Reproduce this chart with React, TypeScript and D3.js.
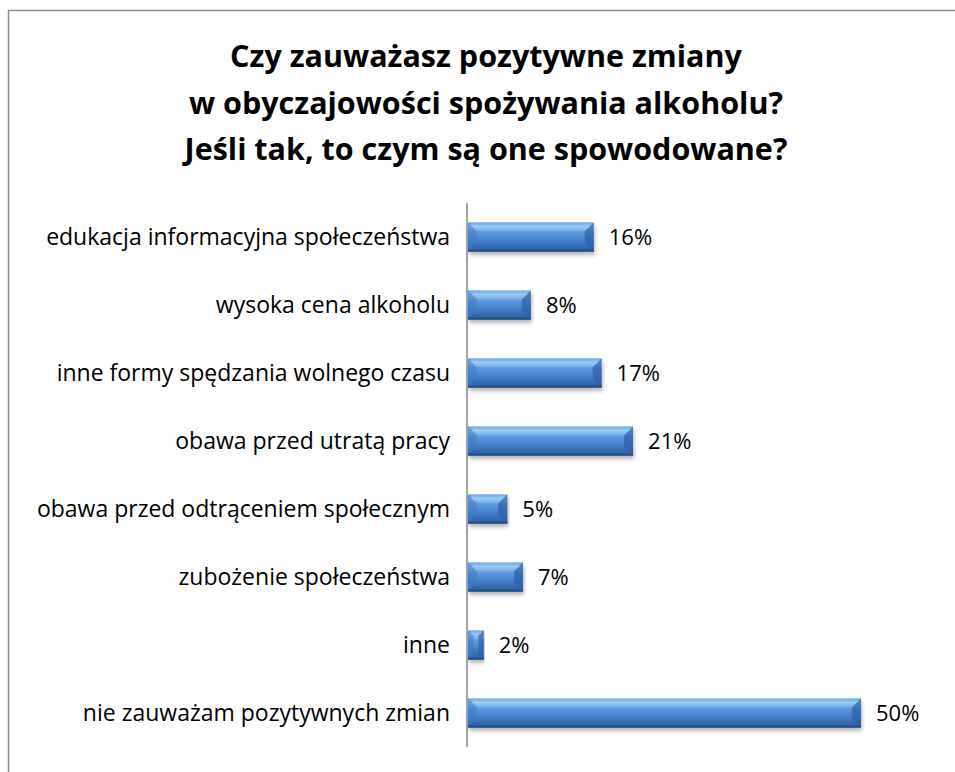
import * as React from "react";
import * as d3 from "d3";

const categories: string[] = [
  "edukacja informacyjna społeczeństwa",
  "wysoka cena alkoholu",
  "inne formy spędzania wolnego czasu",
  "obawa przed utratą pracy",
  "obawa przed odtrąceniem społecznym",
  "zubożenie społeczeństwa",
  "inne",
  "nie zauważam pozytywnych zmian",
];
const values: number[] = [16, 8, 17, 21, 5, 7, 2, 50];
const titleLines: string[] = [
  "Czy zauważasz pozytywne zmiany",
  "w obyczajowości spożywania alkoholu?",
  "Jeśli tak, to czym są one spowodowane?",
];

export default function App() {
  const [width, height] = [955, 772];
  const x0 = 468;
  const xScale = d3.scaleLinear().domain([0, 50]).range([x0, 861]);
  const yScale = d3
    .scaleBand<string>()
    .domain(categories)
    .range([203, 747])
    .paddingInner(0.57)
    .paddingOuter(0.285);
  const bh = yScale.bandwidth();
  const font = "'Open Sans', sans-serif";

  return (
    <svg
      width={width}
      height={height}
      style={{ position: "absolute", left: 0, top: 0, background: "#fff", overflow: "hidden" }}
    >
      <defs>
        <linearGradient id="barGrad" x1="0" y1="0" x2="0" y2="1">
          <stop offset="0" stopColor="#6aa6e8" />
          <stop offset="0.15" stopColor="#9cccf7" />
          <stop offset="0.35" stopColor="#5c9be0" />
          <stop offset="0.7" stopColor="#3b78c4" />
          <stop offset="1" stopColor="#2a5a98" />
        </linearGradient>
        <filter id="shadow" x="-5%" y="-20%" width="110%" height="160%">
          <feGaussianBlur in="SourceAlpha" stdDeviation="2" />
          <feOffset dx="1" dy="3" result="b" />
          <feComponentTransfer>
            <feFuncA type="linear" slope="0.3" />
          </feComponentTransfer>
          <feMerge>
            <feMergeNode />
            <feMergeNode in="SourceGraphic" />
          </feMerge>
        </filter>
      </defs>
      <path d={`M8.5,${height} V10.5 H${width}`} fill="none" stroke="#8c8c8c" strokeWidth={1.5} />
      {titleLines.map((t, i) => (
        <text
          key={i}
          x={486}
          y={67 + i * 46.5}
          textAnchor="middle"
          fontFamily={font}
          fontWeight="bold"
          fontSize={30.5}
          fill="#000"
        >
          {t}
        </text>
      ))}
      {categories.map((c, i) => {
        const y = yScale(c) ?? 0;
        const x1 = xScale(values[i]);
        const w = x1 - x0;
        const bev = Math.min(9, w / 3);
        return (
          <g key={c}>
            <g filter="url(#shadow)">
              <rect x={x0} y={y} width={w} height={bh} fill="url(#barGrad)" />
              <polygon
                points={`${x0},${y} ${x0 + bev},${y + bev} ${x0 + bev},${y + bh - bev} ${x0},${y + bh}`}
                fill="#3f7cc6"
                opacity={0.6}
              />
              <polygon
                points={`${x1},${y} ${x1 - bev},${y + bev} ${x1 - bev},${y + bh - bev} ${x1},${y + bh}`}
                fill="#2c5f9f"
                opacity={0.7}
              />
              <rect x={x0} y={y + bh - 2} width={w} height={2} fill="#24507f" />
            </g>
            <text
              x={450}
              y={y + bh / 2}
              dy="0.35em"
              textAnchor="end"
              fontFamily={font}
              fontSize={23}
              fill="#000"
            >
              {c}
            </text>
            <text
              x={x1 + 15}
              y={y + bh / 2}
              dy="0.35em"
              fontFamily={font}
              fontSize={22}
              fill="#000"
            >
              {values[i]}%
            </text>
          </g>
        );
      })}
      <line x1={x0 - 1} x2={x0 - 1} y1={yScale.range()[0]} y2={yScale.range()[1]} stroke="#868686" strokeWidth={1.5} />
    </svg>
  );
}
